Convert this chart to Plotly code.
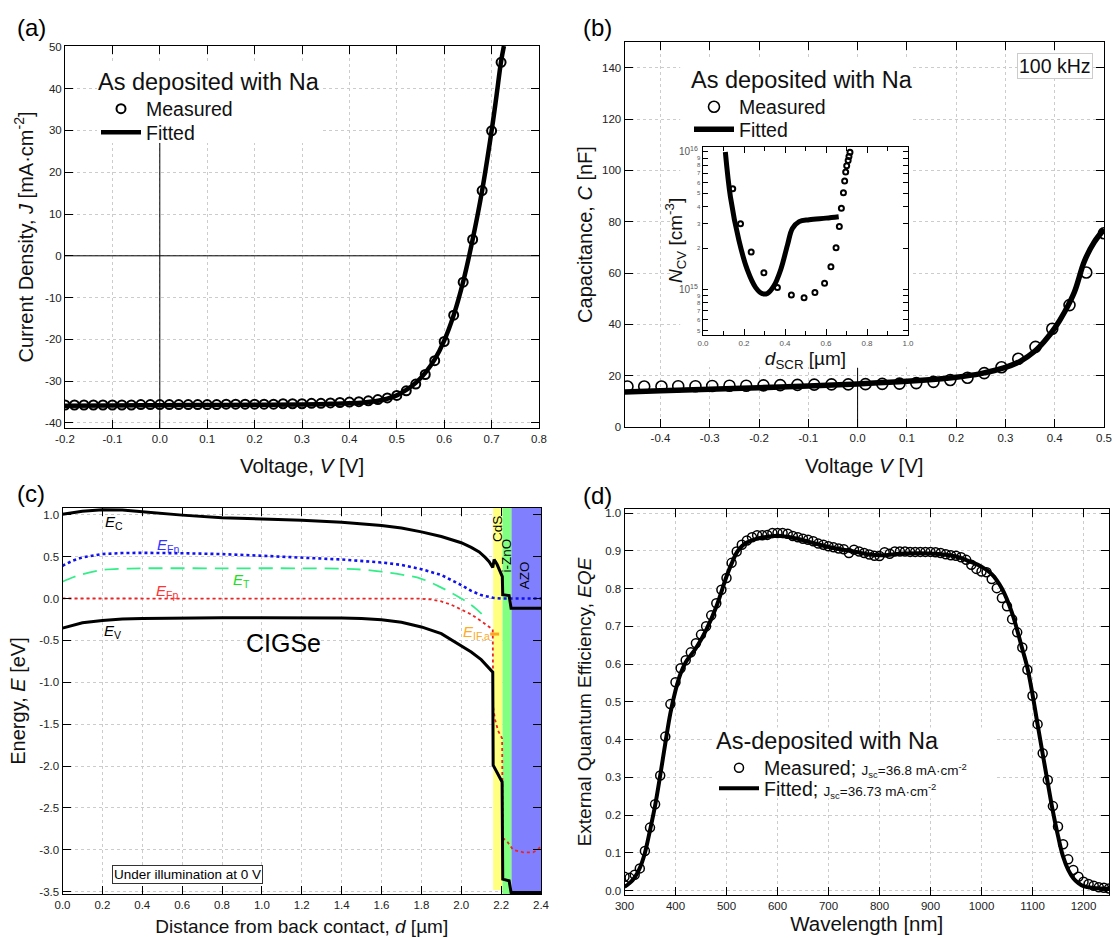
import plotly.graph_objects as go

W, H = 1113, 938
FONT = "Liberation Sans, Arial, Helvetica, sans-serif"

# ---------------- (a) J-V ----------------
jv_v_meas = [-0.20, -0.18, -0.16, -0.14, -0.12, -0.10, -0.08, -0.06, -0.04, -0.02,
             0.00, 0.02, 0.04, 0.06, 0.08, 0.10, 0.12, 0.14, 0.16, 0.18,
             0.20, 0.22, 0.24, 0.26, 0.28, 0.30, 0.32, 0.34, 0.36, 0.38,
             0.40, 0.42, 0.44, 0.46, 0.48, 0.50, 0.52, 0.54, 0.56, 0.58,
             0.60, 0.62, 0.64, 0.66, 0.68, 0.70, 0.72]
jv_j_meas = [-35.7, -35.7, -35.7, -35.7, -35.7, -35.7, -35.7, -35.7, -35.6, -35.6,
             -35.6, -35.6, -35.6, -35.6, -35.6, -35.6, -35.6, -35.5, -35.5, -35.5,
             -35.5, -35.5, -35.5, -35.4, -35.4, -35.4, -35.3, -35.3, -35.2, -35.1,
             -35.0, -34.9, -34.7, -34.4, -34.0, -33.4, -32.3, -30.7, -28.4, -25.1,
             -20.5, -14.2, -6.3, 3.9, 15.6, 29.9, 46.3]
jv_v_fit = [-0.2, -0.1, 0.0, 0.1, 0.2, 0.3, 0.35, 0.4, 0.43, 0.46, 0.48, 0.5, 0.52,
            0.54, 0.56, 0.58, 0.6, 0.62, 0.64, 0.66, 0.68, 0.70, 0.71, 0.72, 0.726]
jv_j_fit = [-35.9, -35.8, -35.75, -35.7, -35.65, -35.55, -35.45, -35.3, -35.1, -34.7,
            -34.2, -33.4, -32.1, -30.4, -28.0, -24.8, -20.3, -14.2, -6.2, 3.9, 15.6,
            29.9, 38.0, 46.5, 50.2]
a_xticks = [-0.2, -0.1, 0.0, 0.1, 0.2, 0.3, 0.4, 0.5, 0.6, 0.7, 0.8]
a_yticks = [-40, -30, -20, -10, 0, 10, 20, 30, 40, 50]

# ---------------- (b) C-V ----------------
cv_v_meas = [-0.467, -0.433, -0.398, -0.364, -0.329, -0.295, -0.26, -0.226, -0.191, -0.157,
             -0.122, -0.088, -0.053, -0.019, 0.016, 0.05, 0.085, 0.119, 0.154, 0.188,
             0.223, 0.257, 0.292, 0.326, 0.361, 0.395, 0.43, 0.464, 0.5]
cv_c_meas = [15.8, 15.8, 15.8, 15.9, 15.9, 16.0, 16.1, 16.1, 16.2, 16.3,
             16.4, 16.5, 16.6, 16.6, 16.7, 16.8, 16.9, 17.1, 17.6, 18.3,
             19.2, 21.0, 23.3, 26.6, 31.2, 38.3, 47.5, 60.2, 75.5]
cv_v_fit = [-0.473, -0.4, -0.3, -0.2, -0.1, 0.0, 0.1, 0.2, 0.25, 0.3, 0.33, 0.36, 0.38,
            0.4, 0.42, 0.44, 0.46, 0.48, 0.5]
cv_c_fit = [13.6, 14.1, 14.7, 15.3, 16.0, 16.8, 17.8, 19.4, 20.8, 23.2, 25.6, 29.6, 33.6,
            38.5, 44.8, 52.6, 64.5, 72.0, 77.0]
b_xticks = [-0.4, -0.3, -0.2, -0.1, 0.0, 0.1, 0.2, 0.3, 0.4, 0.5]
b_yticks = [0, 20, 40, 60, 80, 100, 120, 140]

# inset: doping profile
ncv_d_meas = [0.145, 0.183, 0.235, 0.297, 0.363, 0.431, 0.493, 0.546, 0.593, 0.624,
              0.649, 0.665, 0.675, 0.685, 0.691, 0.696, 0.701, 0.708, 0.712, 0.717]
ncv_n_meas = [5.4e15, 3.0e15, 1.87e15, 1.32e15, 1.03e15, 9.1e14, 8.7e14, 9.5e14, 1.11e15, 1.46e15,
              2.01e15, 2.87e15, 3.9e15, 5.05e15, 6.15e15, 7.15e15, 7.94e15, 8.67e15, 9.26e15, 9.95e15]
ncv_d_fit = [0.109, 0.134, 0.175, 0.216, 0.257, 0.289, 0.314, 0.346, 0.379, 0.412,
             0.436, 0.469, 0.518, 0.6, 0.662]
ncv_n_fit = [1.0e16, 4.7e15, 2.28e15, 1.39e15, 1.03e15, 9.3e14, 9.35e14, 1.06e15, 1.39e15, 2.1e15,
             2.77e15, 3.11e15, 3.21e15, 3.3e15, 3.38e15]
inset_xticks = [0.0, 0.2, 0.4, 0.6, 0.8, 1.0]

# ---------------- (c) band diagram ----------------
ec_x = [0.0, 0.05, 0.1, 0.2, 0.3, 0.4, 0.6, 0.8, 1.0, 1.2, 1.4, 1.6, 1.7, 1.8, 1.9, 2.0,
        2.05, 2.09, 2.12, 2.14, 2.158, 2.165, 2.18, 2.206, 2.208, 2.24, 2.25, 2.4]
ec_e = [1.005, 1.025, 1.04, 1.058, 1.055, 1.035, 0.995, 0.965, 0.95, 0.935, 0.91, 0.87, 0.84,
        0.795, 0.74, 0.665, 0.61, 0.555, 0.49, 0.44, 0.37, 0.465, 0.405, 0.26, 0.045, 0.035,
        -0.117, -0.117]
ev_x = [0.0, 0.05, 0.1, 0.2, 0.3, 0.4, 0.6, 0.8, 1.0, 1.2, 1.4, 1.5, 1.6, 1.7, 1.8, 1.9,
        2.0, 2.05, 2.1, 2.158, 2.16, 2.205, 2.208, 2.24, 2.25, 2.4]
ev_e = [-0.354, -0.32, -0.29, -0.262, -0.245, -0.238, -0.232, -0.23, -0.23, -0.23, -0.232,
        -0.24, -0.255, -0.285, -0.34, -0.42, -0.56, -0.64, -0.73, -0.88, -1.99, -2.19,
        -3.35, -3.37, -3.51, -3.51]
efn_x = [0.0, 0.05, 0.1, 0.2, 0.3, 0.4, 0.6, 0.8, 1.0, 1.2, 1.4, 1.6, 1.7, 1.8, 1.9, 2.0,
         2.05, 2.1, 2.16, 2.2, 2.4]
efn_e = [0.39, 0.45, 0.49, 0.53, 0.542, 0.545, 0.54, 0.53, 0.51, 0.49, 0.465, 0.43, 0.4,
         0.35, 0.28, 0.16, 0.09, 0.04, 0.008, 0.0, 0.0]
et_x = [0.0, 0.05, 0.1, 0.2, 0.3, 0.4, 0.8, 1.2, 1.4, 1.5, 1.6, 1.7, 1.8, 1.9, 2.0, 2.07, 2.13]
et_e = [0.2, 0.25, 0.29, 0.34, 0.355, 0.36, 0.36, 0.36, 0.355, 0.345, 0.32, 0.285, 0.235,
        0.13, 0.0, -0.115, -0.25]
efp_x = [0.0, 0.4, 0.8, 1.2, 1.6, 1.8, 1.85, 1.9, 1.95, 2.0, 2.05, 2.1, 2.158, 2.16, 2.17,
         2.185, 2.2, 2.205, 2.208, 2.23, 2.26, 2.31, 2.36, 2.385, 2.4]
efp_e = [0.0, 0.0, 0.0, 0.0, 0.0, -0.003, -0.012, -0.035, -0.075, -0.13, -0.19, -0.27, -0.37,
         -1.3, -1.45, -1.58, -1.66, -1.67, -2.86, -2.9, -3.0, -3.03, -3.03, -3.0, -2.95]
eif_x = [2.145, 2.19]
eif_e = [-0.425, -0.425]
layer_names = ["CdS", "i-ZnO", "AZO"]
layer_bounds = [(2.16, 2.207), (2.207, 2.252), (2.252, 2.4)]
c_xticks = [0.0, 0.2, 0.4, 0.6, 0.8, 1.0, 1.2, 1.4, 1.6, 1.8, 2.0, 2.2, 2.4]
c_yticks = [-3.5, -3.0, -2.5, -2.0, -1.5, -1.0, -0.5, 0.0, 0.5, 1.0]

# ---------------- (d) EQE ----------------
eqe_wl_meas = [300, 310, 320, 330, 340, 350, 360, 370, 380, 390, 400, 410, 420, 430, 440, 450,
               460, 470, 480, 490, 500, 510, 520, 530, 540, 550, 560, 570, 580, 590, 600, 610,
               620, 630, 640, 650, 660, 670, 680, 690, 700, 710, 720, 730, 740, 750, 760, 770,
               780, 790, 800, 810, 820, 830, 840, 850, 860, 870, 880, 890, 900, 910, 920, 930,
               940, 950, 960, 970, 980, 990, 1000, 1010, 1020, 1030, 1040, 1050, 1060, 1070,
               1080, 1090, 1100, 1110, 1120, 1130, 1140, 1150, 1160, 1170, 1180, 1190, 1200,
               1210, 1220, 1230, 1240, 1250]
eqe_meas = [0.037, 0.034, 0.042, 0.059, 0.105, 0.167, 0.229, 0.305, 0.408, 0.494, 0.552, 0.589,
            0.610, 0.631, 0.655, 0.678, 0.700, 0.729, 0.761, 0.797, 0.828, 0.868, 0.898, 0.916,
            0.927, 0.936, 0.941, 0.941, 0.942, 0.947, 0.947, 0.947, 0.945, 0.939, 0.936, 0.932,
            0.929, 0.925, 0.919, 0.916, 0.912, 0.909, 0.906, 0.904, 0.894, 0.903, 0.898, 0.894,
            0.890, 0.887, 0.886, 0.896, 0.892, 0.898, 0.898, 0.898, 0.897, 0.897, 0.897, 0.897,
            0.897, 0.896, 0.894, 0.891, 0.888, 0.887, 0.883, 0.876, 0.863, 0.852, 0.845, 0.843,
            0.825, 0.801, 0.775, 0.753, 0.719, 0.684, 0.644, 0.585, 0.516, 0.441, 0.364, 0.293,
            0.224, 0.170, 0.123, 0.083, 0.055, 0.037, 0.024, 0.018, 0.013, 0.009, 0.008, 0.006]
eqe_wl_fit = [300, 310, 320, 330, 340, 350, 360, 370, 380, 390, 400, 410, 420, 440, 460, 480,
              500, 510, 520, 530, 540, 560, 580, 600, 620, 650, 700, 750, 780, 800, 850, 900,
              950, 980, 1000, 1020, 1040, 1060, 1080, 1090, 1100, 1110, 1120, 1130, 1140, 1150,
              1160, 1170, 1180, 1190, 1200, 1220, 1250]
eqe_fit = [0.01, 0.02, 0.035, 0.06, 0.1, 0.16, 0.225, 0.305, 0.39, 0.47, 0.53, 0.575, 0.605,
           0.642, 0.69, 0.752, 0.832, 0.866, 0.895, 0.912, 0.922, 0.932, 0.937, 0.94, 0.937,
           0.928, 0.91, 0.898, 0.89, 0.888, 0.893, 0.893, 0.885, 0.87, 0.858, 0.838, 0.8,
           0.735, 0.64, 0.59, 0.52, 0.44, 0.362, 0.285, 0.21, 0.145, 0.09, 0.055, 0.033,
           0.02, 0.012, 0.007, 0.005]
d_xticks = [300, 400, 500, 600, 700, 800, 900, 1000, 1100, 1200]
d_yticks = [0.0, 0.1, 0.2, 0.3, 0.4, 0.5, 0.6, 0.7, 0.8, 0.9, 1.0]


def dom_x(p0, p1):
    return [p0 / W, p1 / W]


def dom_y(top, bottom):
    return [1 - bottom / H, 1 - top / H]


def fmt1(vals):
    return [f"{v:.1f}" for v in vals]


def fmt0(vals):
    return [f"{v:d}" for v in vals]


def axis(domain, rng, tickvals, ticktext, title, anchor, standoff, tsize=20, **kw):
    d = dict(domain=domain, range=rng, tickvals=tickvals, ticktext=ticktext,
             anchor=anchor, showline=True, linecolor="black", linewidth=1,
             mirror="ticks", ticks="inside", ticklen=8, tickwidth=1, tickcolor="black",
             showgrid=True, gridcolor="#cccccc", griddash="dot", gridwidth=1,
             zeroline=False, automargin=False,
             tickfont=dict(size=11.5, color="#222222", family=FONT),
             title=dict(text=title, standoff=standoff,
                        font=dict(size=tsize, color="#111111", family=FONT)))
    d.update(kw)
    return d


fig = go.Figure()

# (a)
fig.add_trace(go.Scatter(x=jv_v_meas, y=jv_j_meas, mode="markers", name="Measured",
                         marker=dict(symbol="circle-open", size=9, color="black",
                                     line=dict(width=2, color="black")),
                         xaxis="x", yaxis="y", legend="legend"))
fig.add_trace(go.Scatter(x=jv_v_fit, y=jv_j_fit, mode="lines", name="Fitted",
                         line=dict(color="black", width=4.5, shape="spline"),
                         xaxis="x", yaxis="y", legend="legend4"))
# (b)
fig.add_trace(go.Scatter(x=cv_v_meas, y=cv_c_meas, mode="markers", name="Measured",
                         marker=dict(symbol="circle-open", size=11, color="black",
                                     line=dict(width=1.6, color="black")),
                         xaxis="x2", yaxis="y2", legend="legend2"))
fig.add_trace(go.Scatter(x=cv_v_fit, y=cv_c_fit, mode="lines", name="Fitted",
                         line=dict(color="black", width=5.5, shape="spline"),
                         xaxis="x2", yaxis="y2", legend="legend5"))
# inset
fig.add_trace(go.Scatter(x=ncv_d_fit, y=ncv_n_fit, mode="lines", showlegend=False,
                         line=dict(color="black", width=5, shape="spline"),
                         xaxis="x5", yaxis="y5"))
fig.add_trace(go.Scatter(x=ncv_d_meas, y=ncv_n_meas, mode="markers", showlegend=False,
                         marker=dict(symbol="circle-open", size=5, color="black",
                                     line=dict(width=2, color="black")),
                         xaxis="x5", yaxis="y5"))
# (c)
fig.add_trace(go.Scatter(x=et_x, y=et_e, mode="lines", showlegend=False,
                         line=dict(color="#33ee88", width=1.8, dash="14px,8px", shape="spline"),
                         xaxis="x3", yaxis="y3"))
fig.add_trace(go.Scatter(x=efn_x, y=efn_e, mode="lines", showlegend=False,
                         line=dict(color="#1111ee", width=2.6, dash="dot"),
                         xaxis="x3", yaxis="y3"))
fig.add_trace(go.Scatter(x=efp_x, y=efp_e, mode="lines", showlegend=False,
                         line=dict(color="#ee2222", width=1.8, dash="dot"),
                         xaxis="x3", yaxis="y3"))
fig.add_trace(go.Scatter(x=ec_x, y=ec_e, mode="lines", showlegend=False,
                         line=dict(color="black", width=3),
                         xaxis="x3", yaxis="y3"))
fig.add_trace(go.Scatter(x=ev_x, y=ev_e, mode="lines", showlegend=False,
                         line=dict(color="black", width=3),
                         xaxis="x3", yaxis="y3"))
fig.add_trace(go.Scatter(x=eif_x, y=eif_e, mode="lines", showlegend=False,
                         line=dict(color="#ffa520", width=3),
                         xaxis="x3", yaxis="y3"))
# (d)
SMALL = "<span style='font-size:13.5px'>"
fig.add_trace(go.Scatter(x=eqe_wl_meas, y=eqe_meas, mode="markers",
                         name="Measured; " + SMALL + "J<sub>sc</sub>=36.8 mA·cm<sup>-2</sup></span>",
                         marker=dict(symbol="circle-open", size=9, color="black",
                                     line=dict(width=1.5, color="black")),
                         xaxis="x4", yaxis="y4", legend="legend3"))
fig.add_trace(go.Scatter(x=eqe_wl_fit, y=eqe_fit, mode="lines",
                         name="Fitted; " + SMALL + "J<sub>sc</sub>=36.73 mA·cm<sup>-2</sup></span>",
                         line=dict(color="black", width=4, shape="spline"),
                         xaxis="x4", yaxis="y4", legend="legend6"))

shapes = []
WHITE = dict(type="rect", fillcolor="white", line=dict(width=0), layer="between")
# (a) white box behind the legend, zero lines (vertical one stops below the legend box)
shapes.append(dict(WHITE, xref="x", yref="y", x0=-0.1325, x1=0.338, y0=27, y1=46.5))
shapes.append(dict(type="line", xref="x", yref="y", x0=-0.2, x1=0.8, y0=0, y1=0,
                   line=dict(color="black", width=1), layer="between"))
shapes.append(dict(type="line", xref="x", yref="y", x0=0, x1=0, y0=-41.2, y1=27,
                   line=dict(color="black", width=1), layer="between"))
# (b) white backdrop behind legend and inset labels, then zero line
shapes.append(dict(WHITE, xref="x2", yref="y2", x0=-0.36, x1=0.112, y0=23.4, y1=144))
shapes.append(dict(type="line", xref="x2", yref="y2", x0=0, x1=0, y0=0, y1=23,
                   line=dict(color="black", width=1), layer="between"))
# (c) layer bands
band_colors = ["#ffff80", "#80ff80", "#8080ff"]
band_bottoms = [-3.48, -3.528, -3.528]
for (x0, x1), col, yb in zip(layer_bounds, band_colors, band_bottoms):
    shapes.append(dict(type="rect", xref="x3", yref="y3", x0=x0, x1=x1, y0=yb, y1=1.08,
                       fillcolor=col, line=dict(width=0), layer="between"))
# (d) white box behind the legend
shapes.append(dict(WHITE, xref="x4", yref="y4", x0=477, x1=1030, y0=0.245, y1=0.432))

ann = []


def label(text, x, y, xref, yref, size=14, color="black", **kw):
    d = dict(text=text, x=x, y=y, xref=xref, yref=yref, showarrow=False,
             xanchor="center", yanchor="middle",
             font=dict(size=size, color=color, family=FONT))
    d.update(kw)
    ann.append(d)


# panel labels
for t, px, py in [("(a)", 31, 27), ("(b)", 597, 27), ("(c)", 31, 494), ("(d)", 597, 495)]:
    label(t, px / W, 1 - py / H, "paper", "paper", size=24)

# (b) frequency box
label("100 kHz", 1055 / W, 1 - 66 / H, "paper", "paper", size=19.5, color="#111111",
      bordercolor="#cccccc", borderwidth=1, borderpad=1, bgcolor="white")
# inset y title
label("<i>N</i><sub>CV</sub> [cm<sup>-3</sup>]", 676 / W, 1 - 241 / H, "paper", "paper",
      size=19, color="#111111", textangle=-90)

# (c) texts
label("<i>E</i><sub>C</sub>", 0.258, 0.905, "x3", "y3", size=15)
label("<i>E</i><sub>V</sub>", 0.25, -0.40, "x3", "y3", size=15)
label("<i>E</i><sub>Fn</sub>", 0.53, 0.63, "x3", "y3", size=15, color="#3333ff")
label("<i>E</i><sub>T</sub>", 0.9, 0.22, "x3", "y3", size=15, color="#22dd22")
label("<i>E</i><sub>Fp</sub>", 0.524, 0.08, "x3", "y3", size=15, color="#ff3333")
label("<i>E</i><sub>IF,a</sub>", 2.077, -0.41, "x3", "y3", size=15, color="#ffaa22")
label("CIGSe", 1.11, -0.53, "x3", "y3", size=25)
for name, xc, yc in zip(layer_names, [2.183, 2.228, 2.316], [0.825, 0.51, 0.28]):
    label(name, xc, yc, "x3", "y3", size=13.5, textangle=-90)
label("Under illumination at 0 V", 0.625, -3.29, "x3", "y3", size=13.5,
      bordercolor="#333333", borderwidth=1, borderpad=1, bgcolor="white")

legend_common = dict(xanchor="left", yanchor="top", bgcolor="rgba(0,0,0,0)", borderwidth=0,
                     itemwidth=40, tracegroupgap=0,
                     font=dict(size=19.5, color="#111111", family=FONT))
TITLE_FONT = dict(size=23.5, color="#111111", family=FONT)

layout = dict(
    width=W, height=H, margin=dict(l=0, r=0, t=0, b=0),
    paper_bgcolor="white", plot_bgcolor="white",
    font=dict(family=FONT, color="#111111"),
    xaxis=axis(dom_x(65, 539), [-0.2, 0.8], a_xticks, fmt1(a_xticks),
               "Voltage, <i>V</i> [V]", "y", 14, tsize=20.5),
    yaxis=axis(dom_y(46, 428), [-41.2, 50.2], a_yticks, fmt0(a_yticks),
               "Current Density, <i>J</i> [mA·cm<sup>-2</sup>]", "x", 6),
    xaxis2=axis(dom_x(624.5, 1104), [-0.473, 0.5], b_xticks, fmt1(b_xticks),
                "Voltage <i>V</i> [V]", "y2", 15, tsize=20.5),
    yaxis2=axis(dom_y(42, 427), [0, 150], b_yticks, fmt0(b_yticks),
                "Capacitance, <i>C</i> [nF]", "x2", 4),
    xaxis3=axis(dom_x(62.5, 541), [0, 2.4], c_xticks, fmt1(c_xticks),
                "Distance from back contact, <i>d</i> [µm]", "y3", 9, tsize=19),
    yaxis3=axis(dom_y(508, 894), [-3.528, 1.08], c_yticks, fmt1(c_yticks),
                "Energy, <i>E</i> [eV]", "x3", 8),
    xaxis4=axis(dom_x(624.5, 1109), [300, 1250], d_xticks, fmt0(d_xticks),
                "Wavelength [nm]", "y4", 2, tsize=20.5),
    yaxis4=axis(dom_y(509, 895), [-0.0114, 1.0106], d_yticks, fmt1(d_yticks),
                "External Quantum Efficiency, <i>EQE</i>", "x4", 8, tsize=19),
    xaxis5=dict(domain=dom_x(703, 908), range=[0, 1.0], anchor="y5",
                tickvals=inset_xticks, ticktext=fmt1(inset_xticks),
                showline=True, linecolor="black", linewidth=1, mirror="ticks",
                ticks="inside", ticklen=6, tickcolor="black", showgrid=False,
                zeroline=False, automargin=False,
                minor=dict(dtick=0.1, ticks="inside", ticklen=4, tickcolor="black", showgrid=False),
                tickfont=dict(size=8, color="#555555", family=FONT),
                title=dict(text="<i>d</i><sub>SCR</sub> [µm]", standoff=3,
                           font=dict(size=19, color="#111111", family=FONT))),
    yaxis5=dict(domain=dom_y(147, 335), type="log", range=[14.668, 16.036], anchor="x5",
                dtick="D1", exponentformat="power",
                showline=True, linecolor="black", linewidth=1, mirror="ticks",
                ticks="inside", ticklen=5, tickcolor="black", showgrid=False,
                zeroline=False, automargin=False,
                tickfont=dict(size=8, color="#555555", family=FONT)),
    legend=dict(x=96 / W, y=1 - 59 / H,
                title=dict(text="As deposited with Na", font=TITLE_FONT),
                **legend_common),
    legend4=dict(x=96 / W, y=1 - 113 / H, **legend_common),
    legend2=dict(x=689 / W, y=1 - 57 / H,
                 title=dict(text="As deposited with Na", font=TITLE_FONT),
                 **legend_common),
    legend5=dict(x=689 / W, y=1 - 110 / H, **legend_common),
    legend3=dict(x=714 / W, y=1 - 718 / H,
                 title=dict(text="As-deposited with Na", font=TITLE_FONT),
                 **legend_common),
    legend6=dict(x=714 / W, y=1 - 769 / H, **legend_common),
    shapes=shapes,
    annotations=ann,
)
fig.update_layout(**layout)
fig.write_html("out.html", config={"displayModeBar": False},
               post_script="document.body.style.margin='0px';document.body.style.padding='0px';"
                           "document.documentElement.style.overflow='hidden';")
